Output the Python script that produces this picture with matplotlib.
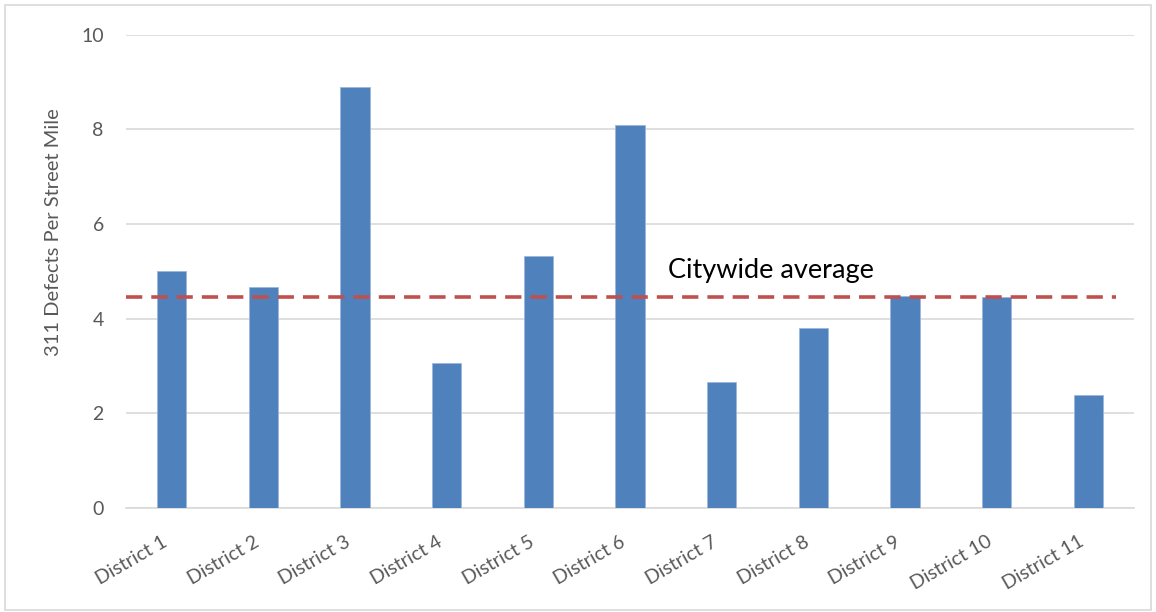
import matplotlib.pyplot as plt
import matplotlib.transforms as mtransforms
import numpy as np
from matplotlib.patches import Rectangle

plt.rcParams["font.family"] = ["Lato", "DejaVu Sans"]

districts = [f"District {i}" for i in range(1, 12)]
defects_per_mile = [5.01, 4.67, 8.90, 3.07, 5.33, 8.10, 2.66, 3.81, 4.48, 4.45, 2.39]
citywide_avg = 4.46
y_ticks = [0, 2, 4, 6, 8, 10]

bar_color = "#4F81BD"
avg_color = "#C0504D"
text_gray = "#595959"
grid_gray = "#D9D9D9"

fig = plt.figure(figsize=(11.56, 6.12), dpi=100)
ax = fig.add_axes([0.109, 0.170, 0.872, 0.773])

x = np.arange(len(districts))
ax.bar(x, defects_per_mile, width=0.32, color=bar_color,
       edgecolor="#9DB7DC", linewidth=0.6, zorder=3)

ax.axhline(citywide_avg, xmin=0.0, xmax=0.982, color=avg_color,
           linestyle=(0, (4.5, 2.5)), linewidth=2.6, zorder=4)
ax.text(5.41, citywide_avg + 0.56, "Citywide average", fontsize=19.5,
        color="black", ha="left", va="center", zorder=5)

ax.set_xlim(-0.5, len(districts) - 0.5)
ax.set_ylim(0, 10)
ax.set_yticks(y_ticks)
ax.set_xticks(x)
ax.set_xticklabels(districts, rotation=30, ha="right", rotation_mode="anchor",
                   fontsize=14, color=text_gray)
ax.tick_params(axis="x", length=0, pad=18)
ax.tick_params(axis="y", length=0, pad=16, labelsize=14, labelcolor=text_gray)

# nudge the slanted labels a little to the left, like the original
shift = mtransforms.ScaledTranslation(-10 / 100, 0, fig.dpi_scale_trans)
for lbl in ax.get_xticklabels():
    lbl.set_transform(lbl.get_transform() + shift)

ax.set_ylabel("311 Defects Per Street Mile", fontsize=14.5, color=text_gray)
ax.yaxis.set_label_coords(-0.063, 0.583)

ax.grid(axis="y", color=grid_gray, linewidth=1.2, zorder=0)
for side in ["top", "right", "left"]:
    ax.spines[side].set_visible(False)
ax.spines["bottom"].set_color(grid_gray)
ax.spines["bottom"].set_linewidth(1.2)

fig.patches.append(Rectangle((0.004, 0.004), 0.992, 0.988, transform=fig.transFigure,
                             fill=False, edgecolor=grid_gray, linewidth=1.2))

fig.savefig("out.png", dpi=100)
